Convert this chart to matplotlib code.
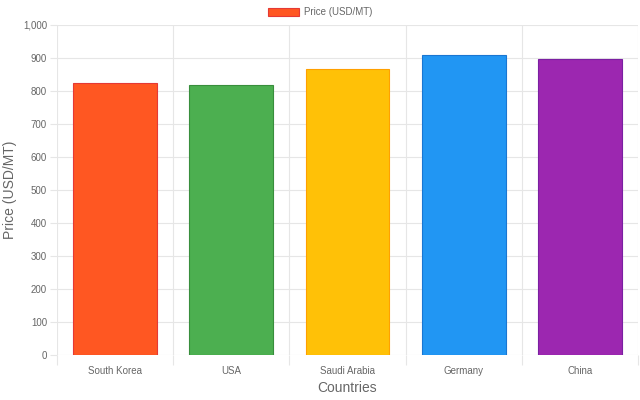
import matplotlib
matplotlib.use("Agg")
import matplotlib.pyplot as plt
from matplotlib.patches import Patch
from matplotlib.ticker import FuncFormatter, MultipleLocator, FixedLocator

countries = ["South Korea", "USA", "Saudi Arabia", "Germany", "China"]
prices = [823, 818, 867, 908, 898]
fill_colors = ["#FF5722", "#4CAF50", "#FFC107", "#2196F3", "#9C27B0"]
edge_colors = ["#E53935", "#388E3C", "#FFA000", "#1976D2", "#7B1FA2"]

plt.rcParams['font.family'] = ['Liberation Sans', 'DejaVu Sans']

fig = plt.figure(figsize=(6.4, 4.0), dpi=100)
ax = fig.add_axes([57/640, 45/400, (638-57)/640, (355-25)/400])

x = list(range(len(countries)))
ax.bar(x, prices, width=0.72, color=fill_colors, edgecolor=edge_colors, linewidth=0.8, zorder=3)

ax.set_xlim(-0.5, len(countries) - 0.5)
ax.set_ylim(0, 1000)
ax.yaxis.set_major_locator(MultipleLocator(100))
ax.yaxis.set_major_formatter(FuncFormatter(lambda v, p: f"{int(v):,}"))
ax.set_xticks(x)
ax.set_xticklabels(countries)
ax.xaxis.set_minor_locator(FixedLocator([i - 0.5 for i in range(len(countries) + 1)]))

grid_col = '#e6e6e6'
for s in ax.spines.values():
    s.set_visible(False)
ax.tick_params(axis='x', which='major', length=0, pad=8, labelsize=7, labelcolor='#666666')
ax.tick_params(axis='x', which='minor', length=7.5, color=grid_col, width=0.8)
ax.tick_params(axis='y', which='major', length=5, color=grid_col, width=0.8, pad=2.2, labelsize=7, labelcolor='#666666')
ax.grid(True, axis='y', which='major', color=grid_col, linewidth=0.8, zorder=0)
ax.grid(True, axis='x', which='minor', color=grid_col, linewidth=0.8, zorder=0)
ax.grid(False, axis='x', which='major')
ax.set_axisbelow(True)

ax.set_xlabel("Countries", fontsize=10, color='#666666')
ax.xaxis.set_label_coords(0.5, -(388 - 355) / 330, transform=ax.transAxes)
ax.set_ylabel("Price (USD/MT)", fontsize=10, color='#666666')
ax.yaxis.set_label_coords(-(57 - 10) / 581, 0.5, transform=ax.transAxes)
ax.xaxis.label.set_va('center')
ax.yaxis.label.set_va('center')

handle = Patch(facecolor=fill_colors[0], edgecolor=edge_colors[0], linewidth=0.8)
fig.legend([handle], ["Price (USD/MT)"], loc='upper center', bbox_to_anchor=(0.5, 1.0),
           frameon=False, fontsize=7, handlelength=3.2, handleheight=0.9,
           labelcolor='#666666', handletextpad=0.5, borderaxespad=0.35)

fig.savefig("out.png", dpi=100)
